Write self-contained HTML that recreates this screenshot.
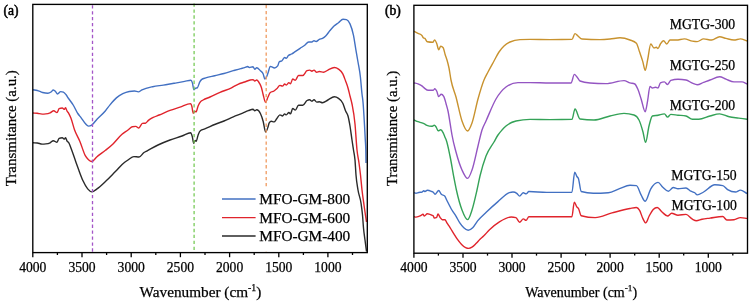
<!DOCTYPE html>
<html><head><meta charset="utf-8"><style>
html,body{margin:0;padding:0;background:#fff;width:750px;height:303px;overflow:hidden}
svg{display:block;will-change:transform}
text{font-family:"Liberation Serif",serif;fill:#000;stroke:#000;stroke-width:0.25px}
</style></head><body>
<svg width="750" height="303" viewBox="0 0 750 303">
<path d="M33.00 142.80 C34.43 142.87 35.87 142.87 37.30 143.00 C38.90 143.15 40.50 144.10 42.10 144.10 C43.33 144.10 44.57 144.03 45.80 143.90 C47.23 143.75 48.67 143.50 50.10 142.80 C51.17 142.28 52.23 140.70 53.30 140.70 C54.53 140.70 55.77 142.30 57.00 142.30 C57.70 142.30 58.40 138.56 59.10 138.30 C60.17 137.90 61.23 137.70 62.30 137.70 C63.03 137.70 63.77 139.10 64.50 139.10 C64.83 139.10 65.17 137.70 65.50 137.70 C66.03 137.70 66.57 140.38 67.10 141.20 C67.63 142.02 68.17 141.82 68.70 142.60 C69.60 143.91 70.50 146.86 71.40 149.20 C72.83 152.93 74.27 157.46 75.70 161.50 C76.63 164.13 77.57 166.78 78.50 169.30 C80.00 173.35 81.50 177.58 83.00 180.80 C84.57 184.17 86.13 187.03 87.70 188.90 C89.10 190.57 90.50 191.90 91.90 191.90 C93.60 191.90 95.30 190.08 97.00 188.90 C100.07 186.78 103.13 183.68 106.20 180.80 C109.27 177.92 112.33 174.67 115.40 171.60 C118.50 168.50 121.60 164.71 124.70 162.30 C125.80 161.45 126.90 160.72 128.00 160.00 C129.97 158.71 131.93 156.60 133.90 156.60 C135.60 156.60 137.30 157.00 139.00 157.00 C140.67 157.00 142.33 153.63 144.00 152.50 C145.07 151.78 146.13 151.37 147.20 150.80 C150.80 148.88 154.40 146.73 158.00 145.00 C162.00 143.08 166.00 141.50 170.00 140.00 C174.00 138.50 178.00 137.44 182.00 136.00 C184.90 134.96 187.80 132.70 190.70 132.70 C191.27 132.70 191.83 134.96 192.40 137.10 C192.83 138.74 193.27 143.20 193.70 143.20 C194.20 143.20 194.70 140.40 195.20 140.40 C195.53 140.40 195.87 141.30 196.20 141.30 C196.87 141.30 197.53 136.43 198.20 134.70 C199.00 132.62 199.80 131.11 200.60 130.50 C202.00 129.43 203.40 129.46 204.80 128.90 C208.10 127.58 211.40 125.85 214.70 124.50 C217.80 123.23 220.90 122.28 224.00 121.00 C227.10 119.72 230.20 118.11 233.30 116.80 C236.43 115.48 239.57 114.40 242.70 113.10 C244.57 112.32 246.43 111.37 248.30 110.70 C249.87 110.14 251.43 109.30 253.00 109.30 C253.60 109.30 254.20 110.70 254.80 110.70 C255.43 110.70 256.07 109.80 256.70 109.80 C257.93 109.80 259.17 111.03 260.40 113.50 C261.33 115.37 262.27 118.07 263.20 121.50 C264.00 124.44 264.80 132.00 265.60 132.00 C266.40 132.00 267.20 129.38 268.00 127.00 C268.40 125.81 268.80 123.51 269.20 122.90 C269.90 121.83 270.60 121.30 271.30 121.30 C272.20 121.30 273.10 121.90 274.00 121.90 C274.90 121.90 275.80 119.77 276.70 118.70 C277.77 117.43 278.83 114.90 279.90 114.90 C280.77 114.90 281.63 116.00 282.50 116.00 C283.23 116.00 283.97 113.90 284.70 113.90 C285.23 113.90 285.77 114.90 286.30 114.90 C287.17 114.90 288.03 112.50 288.90 112.50 C289.43 112.50 289.97 113.90 290.50 113.90 C291.23 113.90 291.97 108.50 292.70 108.50 C293.57 108.50 294.43 110.10 295.30 110.10 C296.37 110.10 297.43 105.30 298.50 105.30 C299.93 105.30 301.37 105.30 302.80 105.30 C304.20 105.30 305.60 101.33 307.00 100.50 C307.90 99.97 308.80 99.70 309.70 99.70 C310.43 99.70 311.17 101.10 311.90 101.10 C312.60 101.10 313.30 99.70 314.00 99.70 C314.90 99.70 315.80 102.10 316.70 102.10 C317.57 102.10 318.43 101.80 319.30 101.80 C320.37 101.80 321.43 102.70 322.50 102.70 C324.30 102.70 326.10 100.90 327.90 100.00 C330.03 98.93 332.17 96.80 334.30 96.80 C335.70 96.80 337.10 97.36 338.50 98.40 C339.93 99.47 341.37 100.14 342.80 103.20 C343.70 105.12 344.60 108.51 345.50 110.70 C346.33 112.73 347.17 112.90 348.00 116.00 C348.67 118.48 349.33 122.00 350.00 126.00 C350.67 130.00 351.33 135.46 352.00 140.00 C352.50 143.40 353.00 146.67 353.50 150.00 C354.00 153.33 354.50 154.17 355.00 160.00 C355.33 163.89 355.67 170.83 356.00 175.00 C356.67 183.33 357.33 185.84 358.00 190.00 C359.00 196.23 360.00 196.22 361.00 203.00 C361.50 206.39 362.00 209.50 362.50 215.00 C362.83 218.67 363.17 224.33 363.50 228.00 C364.00 233.50 364.50 236.08 365.00 240.00 C365.50 243.92 366.00 247.67 366.50 251.50" fill="none" stroke="#2a2a2a" stroke-width="1.4" stroke-linejoin="round"/>
<path d="M33.00 113.00 C34.43 113.10 35.87 113.13 37.30 113.30 C38.90 113.48 40.50 114.10 42.10 114.10 C43.33 114.10 44.57 114.03 45.80 113.90 C47.23 113.75 48.67 113.41 50.10 112.80 C51.33 112.28 52.57 110.70 53.80 110.70 C54.87 110.70 55.93 112.60 57.00 112.60 C57.70 112.60 58.40 109.01 59.10 108.70 C60.17 108.23 61.23 108.00 62.30 108.00 C63.03 108.00 63.77 109.40 64.50 109.40 C64.83 109.40 65.17 107.70 65.50 107.70 C66.03 107.70 66.57 110.27 67.10 111.20 C67.63 112.13 68.17 112.40 68.70 113.30 C69.43 114.53 70.17 116.22 70.90 118.10 C72.13 121.27 73.37 126.56 74.60 130.00 C76.40 135.02 78.20 137.39 80.00 141.70 C81.77 145.93 83.53 152.44 85.30 155.60 C86.37 157.51 87.43 158.72 88.50 159.70 C89.57 160.68 90.63 161.50 91.70 161.50 C93.47 161.50 95.23 158.20 97.00 156.70 C99.83 154.30 102.67 152.58 105.50 150.30 C108.00 148.28 110.50 146.29 113.00 143.90 C116.00 141.03 119.00 136.75 122.00 134.20 C124.00 132.50 126.00 131.47 128.00 130.00 C129.40 128.97 130.80 127.11 132.20 126.80 C133.40 126.53 134.60 126.40 135.80 126.40 C136.80 126.40 137.80 128.00 138.80 128.00 C140.00 128.00 141.20 123.56 142.40 123.40 C143.40 123.27 144.40 123.33 145.40 123.20 C146.40 123.07 147.40 121.21 148.40 120.40 C150.00 119.10 151.60 118.24 153.20 117.40 C155.20 116.35 157.20 115.82 159.20 115.00 C162.80 113.53 166.40 111.74 170.00 110.40 C173.33 109.16 176.67 108.29 180.00 107.20 C183.57 106.03 187.13 103.60 190.70 103.60 C191.10 103.60 191.50 105.11 191.90 106.60 C192.33 108.22 192.77 113.20 193.20 113.20 C193.77 113.20 194.33 111.20 194.90 111.20 C195.27 111.20 195.63 111.90 196.00 111.90 C196.73 111.90 197.47 107.47 198.20 105.80 C199.00 103.97 199.80 102.57 200.60 101.60 C201.43 100.59 202.27 100.49 203.10 100.00 C205.40 98.65 207.70 98.02 210.00 97.00 C213.33 95.52 216.67 93.84 220.00 92.40 C223.83 90.74 227.67 89.67 231.50 87.80 C233.67 86.74 235.83 85.26 238.00 84.30 C240.20 83.32 242.40 82.78 244.60 82.00 C246.47 81.34 248.33 80.40 250.20 80.00 C251.13 79.80 252.07 79.60 253.00 79.60 C253.60 79.60 254.20 81.00 254.80 81.00 C255.43 81.00 256.07 80.00 256.70 80.00 C257.63 80.00 258.57 81.63 259.50 83.30 C260.13 84.44 260.77 85.46 261.40 87.50 C261.93 89.22 262.47 92.00 263.00 94.00 C263.87 97.25 264.73 102.40 265.60 102.40 C266.40 102.40 267.20 98.68 268.00 97.00 C268.77 95.39 269.53 93.12 270.30 92.50 C271.53 91.50 272.77 91.79 274.00 91.00 C274.90 90.42 275.80 89.64 276.70 88.80 C277.77 87.81 278.83 85.40 279.90 85.40 C280.77 85.40 281.63 86.10 282.50 86.10 C283.23 86.10 283.97 84.00 284.70 84.00 C285.23 84.00 285.77 85.00 286.30 85.00 C287.17 85.00 288.03 82.60 288.90 82.60 C289.43 82.60 289.97 83.70 290.50 83.70 C291.23 83.70 291.97 79.00 292.70 79.00 C293.57 79.00 294.43 80.30 295.30 80.30 C296.37 80.30 297.43 75.50 298.50 75.50 C299.93 75.50 301.37 75.50 302.80 75.50 C304.20 75.50 305.60 71.32 307.00 70.70 C307.90 70.30 308.80 70.10 309.70 70.10 C310.43 70.10 311.17 71.20 311.90 71.20 C312.60 71.20 313.30 70.10 314.00 70.10 C314.90 70.10 315.80 72.30 316.70 72.30 C317.57 72.30 318.43 71.50 319.30 71.50 C320.73 71.50 322.17 72.30 323.60 72.30 C325.03 72.30 326.47 70.77 327.90 70.10 C330.03 69.10 332.17 67.50 334.30 67.50 C335.70 67.50 337.10 68.06 338.50 69.10 C339.93 70.17 341.37 71.03 342.80 73.90 C343.70 75.70 344.60 78.35 345.50 80.80 C346.33 83.07 347.17 85.08 348.00 88.00 C348.67 90.33 349.33 93.33 350.00 96.00 C350.67 98.67 351.33 100.62 352.00 104.00 C353.00 109.07 354.00 113.53 355.00 124.00 C355.67 130.98 356.33 143.50 357.00 150.00 C357.67 156.50 358.33 158.10 359.00 163.00 C359.50 166.68 360.00 170.50 360.50 175.00 C361.00 179.50 361.50 185.54 362.00 190.00 C362.67 195.95 363.33 200.22 364.00 205.00 C364.33 207.39 364.67 209.71 365.00 212.00 C365.50 215.43 366.00 218.67 366.50 222.00" fill="none" stroke="#e0242c" stroke-width="1.4" stroke-linejoin="round"/>
<path d="M33.00 89.70 C34.43 89.97 35.87 90.11 37.30 90.50 C39.07 90.98 40.83 92.05 42.60 92.50 C44.37 92.95 46.13 93.20 47.90 93.20 C48.93 93.20 49.97 92.69 51.00 92.00 C51.77 91.49 52.53 90.00 53.30 90.00 C54.03 90.00 54.77 90.78 55.50 91.50 C56.17 92.15 56.83 94.00 57.50 94.00 C58.57 94.00 59.63 91.60 60.70 91.60 C61.60 91.60 62.50 91.77 63.40 92.10 C64.30 92.43 65.20 93.63 66.10 94.80 C66.80 95.71 67.50 96.95 68.20 98.00 C69.97 100.64 71.73 102.57 73.50 105.50 C74.93 107.88 76.37 111.31 77.80 113.50 C78.87 115.13 79.93 116.19 81.00 117.60 C82.43 119.49 83.87 121.99 85.30 123.50 C86.37 124.62 87.43 126.10 88.50 126.10 C89.57 126.10 90.63 125.75 91.70 125.10 C93.47 124.02 95.23 121.09 97.00 119.20 C99.83 116.17 102.67 114.07 105.50 110.70 C107.00 108.92 108.50 106.71 110.00 104.90 C112.13 102.32 114.27 99.77 116.40 97.90 C118.53 96.03 120.67 94.77 122.80 93.70 C124.93 92.63 127.07 91.90 129.20 91.50 C130.97 91.17 132.73 91.00 134.50 91.00 C135.77 91.00 137.03 91.90 138.30 91.90 C139.53 91.90 140.77 90.49 142.00 89.90 C145.57 88.19 149.13 87.50 152.70 86.70 C156.23 85.91 159.77 85.66 163.30 85.10 C166.87 84.53 170.43 83.92 174.00 83.30 C177.57 82.68 181.13 82.07 184.70 81.40 C186.77 81.01 188.83 80.20 190.90 80.20 C191.40 80.20 191.90 81.30 192.40 82.90 C192.90 84.50 193.40 89.80 193.90 89.80 C194.37 89.80 194.83 88.53 195.30 88.30 C195.97 87.97 196.63 88.13 197.30 87.80 C198.13 87.38 198.97 83.35 199.80 81.90 C200.47 80.74 201.13 79.91 201.80 79.40 C203.10 78.40 204.40 78.34 205.70 77.90 C208.70 76.87 211.70 76.42 214.70 75.70 C217.80 74.95 220.90 74.33 224.00 73.50 C227.10 72.67 230.20 71.60 233.30 70.70 C235.80 69.98 238.30 69.23 240.80 68.60 C242.07 68.28 243.33 68.09 244.60 67.70 C245.67 67.37 246.73 66.50 247.80 66.50 C248.27 66.50 248.73 67.50 249.20 67.50 C250.47 67.50 251.73 66.70 253.00 66.70 C253.60 66.70 254.20 69.20 254.80 69.20 C255.43 69.20 256.07 67.70 256.70 67.70 C257.93 67.70 259.17 69.44 260.40 70.70 C261.33 71.65 262.27 71.80 263.20 74.00 C263.73 75.26 264.27 79.00 264.80 79.00 C265.37 79.00 265.93 78.12 266.50 77.00 C267.00 76.02 267.50 74.37 268.00 73.00 C268.77 70.89 269.53 66.40 270.30 66.40 C271.70 66.40 273.10 68.00 274.50 68.00 C275.57 68.00 276.63 67.30 277.70 65.90 C278.23 65.20 278.77 62.23 279.30 61.80 C280.20 61.07 281.10 61.42 282.00 60.70 C282.90 59.98 283.80 57.50 284.70 57.50 C285.23 57.50 285.77 58.30 286.30 58.30 C287.00 58.30 287.70 56.28 288.40 55.60 C289.47 54.56 290.53 54.62 291.60 54.00 C292.67 53.38 293.73 52.61 294.80 51.90 C296.57 50.73 298.33 49.47 300.10 48.30 C301.53 47.35 302.97 46.55 304.40 45.50 C305.83 44.45 307.27 42.00 308.70 42.00 C309.77 42.00 310.83 42.00 311.90 42.00 C312.60 42.00 313.30 40.70 314.00 40.70 C314.70 40.70 315.40 41.50 316.10 41.50 C317.17 41.50 318.23 39.93 319.30 39.40 C320.37 38.87 321.43 38.88 322.50 38.30 C323.57 37.72 324.63 36.93 325.70 35.90 C327.13 34.52 328.57 32.20 330.00 30.50 C331.33 28.92 332.67 27.25 334.00 26.00 C335.50 24.59 337.00 23.83 338.50 22.70 C340.00 21.57 341.50 19.20 343.00 19.20 C344.17 19.20 345.33 19.37 346.50 19.70 C347.67 20.03 348.83 21.28 350.00 23.90 C351.17 26.52 352.33 29.63 353.50 35.40 C354.27 39.19 355.03 44.77 355.80 49.30 C356.53 53.63 357.27 57.60 358.00 62.00 C358.80 66.80 359.60 69.90 360.40 77.00 C360.93 81.73 361.47 89.19 362.00 94.00 C362.33 97.00 362.67 98.36 363.00 102.00 C363.50 107.47 364.00 116.22 364.50 125.00 C364.77 129.68 365.03 134.79 365.30 140.00 C365.47 143.25 365.63 143.33 365.80 150.00 C365.87 152.67 365.93 158.67 366.00 163.00" fill="none" stroke="#4270c2" stroke-width="1.4" stroke-linejoin="round"/>
<path d="M414.00 216.70 C414.67 216.83 415.33 217.10 416.00 217.10 C417.57 217.10 419.13 216.49 420.70 215.70 C421.47 215.31 422.23 214.30 423.00 214.30 C423.43 214.30 423.87 216.00 424.30 216.00 C425.30 216.00 426.30 213.70 427.30 213.70 C428.87 213.70 430.43 214.52 432.00 215.30 C432.43 215.51 432.87 215.53 433.30 216.00 C433.63 216.36 433.97 218.00 434.30 218.00 C435.10 218.00 435.90 217.77 436.70 217.30 C437.13 217.05 437.57 214.00 438.00 214.00 C438.67 214.00 439.33 216.39 440.00 217.30 C440.77 218.35 441.53 219.70 442.30 219.70 C443.20 219.70 444.10 219.70 445.00 219.70 C445.63 219.70 446.27 221.89 446.90 222.90 C447.90 224.50 448.90 225.77 449.90 227.30 C451.23 229.35 452.57 231.66 453.90 233.80 C455.03 235.62 456.17 237.59 457.30 239.20 C458.73 241.24 460.17 242.97 461.60 244.40 C462.93 245.73 464.27 246.94 465.60 247.60 C466.67 248.13 467.73 248.40 468.80 248.40 C469.87 248.40 470.93 247.85 472.00 247.20 C473.33 246.39 474.67 244.93 476.00 243.60 C477.33 242.27 478.67 240.52 480.00 239.20 C481.20 238.01 482.40 237.14 483.60 236.00 C485.57 234.13 487.53 231.68 489.50 229.80 C492.80 226.64 496.10 223.96 499.40 221.90 C503.33 219.45 507.27 217.00 511.20 217.00 C512.77 217.00 514.33 217.20 515.90 217.60 C517.13 217.91 518.37 222.30 519.60 222.30 C520.83 222.30 522.07 218.90 523.30 218.90 C524.23 218.90 525.17 220.40 526.10 220.40 C527.03 220.40 527.97 216.70 528.90 216.70 C543.23 216.70 557.57 216.70 571.90 216.70 C572.70 216.70 573.50 202.10 574.30 202.10 C575.17 202.10 576.03 205.93 576.90 207.00 C577.40 207.62 577.90 207.56 578.40 208.30 C579.33 209.69 580.27 215.45 581.20 215.70 C585.87 216.97 590.53 217.60 595.20 217.60 C600.80 217.60 606.40 214.37 612.00 212.90 C618.00 211.32 624.00 209.58 630.00 208.50 C632.13 208.12 634.27 207.50 636.40 207.50 C637.47 207.50 638.53 208.58 639.60 210.40 C640.67 212.22 641.73 216.26 642.80 218.40 C643.77 220.34 644.73 222.90 645.70 222.90 C646.87 222.90 648.03 218.10 649.20 216.00 C650.53 213.60 651.87 211.00 653.20 209.60 C654.53 208.20 655.87 207.50 657.20 207.50 C658.80 207.50 660.40 210.66 662.00 212.00 C663.87 213.56 665.73 216.00 667.60 216.00 C668.93 216.00 670.27 213.30 671.60 213.30 C673.73 213.30 675.87 215.20 678.00 215.20 C680.67 215.20 683.33 214.40 686.00 214.40 C688.13 214.40 690.27 218.06 692.40 219.20 C693.73 219.91 695.07 220.80 696.40 220.80 C698.27 220.80 700.13 219.62 702.00 219.20 C704.67 218.60 707.33 218.45 710.00 218.10 C714.27 217.53 718.53 216.50 722.80 216.50 C724.13 216.50 725.47 220.00 726.80 220.00 C729.20 220.00 731.60 219.90 734.00 219.70 C736.13 219.52 738.27 217.60 740.40 217.60 C742.60 217.60 744.80 218.13 747.00 218.40" fill="none" stroke="#e0242c" stroke-width="1.4" stroke-linejoin="round"/>
<path d="M414.00 192.70 C414.67 192.90 415.33 193.30 416.00 193.30 C416.90 193.30 417.80 192.70 418.70 192.50 C419.80 192.26 420.90 192.37 422.00 192.10 C422.57 191.96 423.13 190.80 423.70 190.80 C424.13 190.80 424.57 191.50 425.00 191.50 C425.77 191.50 426.53 190.30 427.30 190.30 C428.63 190.30 429.97 190.74 431.30 191.30 C431.97 191.58 432.63 191.72 433.30 192.30 C433.87 192.79 434.43 194.30 435.00 194.30 C436.23 194.30 437.47 190.50 438.70 190.50 C439.57 190.50 440.43 193.43 441.30 194.30 C442.43 195.43 443.57 194.87 444.70 196.00 C445.37 196.67 446.03 198.68 446.70 200.00 C448.43 203.43 450.17 207.07 451.90 210.00 C453.20 212.20 454.50 213.78 455.80 215.90 C457.13 218.07 458.47 220.92 459.80 222.90 C461.13 224.88 462.47 226.58 463.80 227.80 C465.27 229.14 466.73 230.30 468.20 230.30 C469.70 230.30 471.20 229.25 472.70 227.80 C474.33 226.23 475.97 222.96 477.60 220.90 C480.47 217.29 483.33 215.05 486.20 212.30 C490.03 208.62 493.87 205.15 497.70 201.90 C501.57 198.62 505.43 194.00 509.30 192.70 C510.53 192.29 511.77 192.00 513.00 192.00 C514.27 192.00 515.53 192.43 516.80 193.30 C517.73 193.94 518.67 196.10 519.60 196.10 C520.83 196.10 522.07 192.80 523.30 192.80 C524.23 192.80 525.17 193.90 526.10 193.90 C527.03 193.90 527.97 191.50 528.90 191.50 C534.83 191.50 540.77 192.40 546.70 192.40 C555.10 192.40 563.50 192.40 571.90 192.40 C572.83 192.40 573.77 172.20 574.70 172.20 C575.43 172.20 576.17 175.37 576.90 176.50 C577.40 177.27 577.90 177.17 578.40 178.40 C579.33 180.69 580.27 191.22 581.20 191.50 C585.23 192.70 589.27 193.30 593.30 193.30 C598.30 193.30 603.30 193.13 608.30 192.80 C612.03 192.55 615.77 189.99 619.50 188.70 C623.00 187.50 626.50 185.30 630.00 185.30 C632.13 185.30 634.27 185.40 636.40 185.60 C638.00 185.75 639.60 192.41 641.20 195.20 C642.53 197.52 643.87 201.30 645.20 201.30 C647.07 201.30 648.93 191.87 650.80 188.80 C653.20 184.85 655.60 182.40 658.00 182.40 C659.60 182.40 661.20 185.81 662.80 187.20 C664.67 188.82 666.53 191.20 668.40 191.20 C670.00 191.20 671.60 187.50 673.20 187.50 C674.80 187.50 676.40 188.80 678.00 188.80 C680.67 188.80 683.33 188.00 686.00 188.00 C687.60 188.00 689.20 190.37 690.80 191.20 C692.13 191.89 693.47 191.87 694.80 192.80 C695.60 193.36 696.40 194.90 697.20 194.90 C699.33 194.90 701.47 193.11 703.60 192.00 C707.33 190.05 711.07 184.80 714.80 184.80 C717.47 184.80 720.13 185.07 722.80 185.60 C724.40 185.92 726.00 188.64 727.60 189.60 C730.27 191.20 732.93 192.00 735.60 192.00 C737.20 192.00 738.80 190.10 740.40 190.10 C742.60 190.10 744.80 192.43 747.00 193.60" fill="none" stroke="#4270c2" stroke-width="1.4" stroke-linejoin="round"/>
<path d="M414.00 119.90 C415.33 120.50 416.67 121.20 418.00 121.70 C419.30 122.19 420.60 122.43 421.90 122.90 C422.73 123.20 423.57 123.50 424.40 123.90 C425.23 124.30 426.07 124.96 426.90 125.30 C428.53 125.97 430.17 126.30 431.80 126.30 C432.63 126.30 433.47 125.30 434.30 125.30 C434.97 125.30 435.63 126.35 436.30 127.30 C436.93 128.21 437.57 130.80 438.20 130.80 C439.03 130.80 439.87 129.80 440.70 129.80 C441.53 129.80 442.37 131.22 443.20 132.80 C443.87 134.06 444.53 136.13 445.20 137.70 C445.53 138.48 445.87 139.10 446.20 140.00 C447.47 143.42 448.73 149.87 450.00 156.00 C451.33 162.45 452.67 171.08 454.00 178.00 C454.80 182.15 455.60 186.34 456.40 190.00 C458.27 198.53 460.13 205.07 462.00 210.00 C463.87 214.93 465.73 219.60 467.60 219.60 C469.07 219.60 470.53 214.45 472.00 210.00 C473.67 204.95 475.33 197.36 477.00 190.00 C478.00 185.58 479.00 180.22 480.00 176.00 C482.00 167.56 484.00 161.31 486.00 156.00 C488.67 148.92 491.33 146.67 494.00 142.00 C495.33 139.67 496.67 137.00 498.00 135.00 C499.33 133.00 500.67 131.50 502.00 130.00 C503.33 128.50 504.67 127.14 506.00 126.00 C509.33 123.14 512.67 121.76 516.00 121.00 C520.67 119.93 525.33 119.40 530.00 119.40 C536.67 119.40 543.33 119.60 550.00 119.60 C557.33 119.60 564.67 119.53 572.00 119.40 C573.00 119.38 574.00 109.00 575.00 109.00 C576.67 109.00 578.33 118.76 580.00 119.00 C584.67 119.67 589.33 120.00 594.00 120.00 C599.33 120.00 604.67 117.15 610.00 116.00 C614.67 114.99 619.33 113.40 624.00 113.40 C627.33 113.40 630.67 113.93 634.00 115.00 C635.67 115.53 637.33 116.67 639.00 120.00 C640.33 122.67 641.67 127.19 643.00 132.00 C643.87 135.13 644.73 142.40 645.60 142.40 C646.73 142.40 647.87 130.40 649.00 126.00 C650.13 121.60 651.27 116.32 652.40 116.00 C654.27 115.47 656.13 115.52 658.00 115.20 C660.13 114.84 662.27 113.90 664.40 113.90 C665.47 113.90 666.53 117.10 667.60 117.10 C668.67 117.10 669.73 114.40 670.80 114.40 C673.20 114.40 675.60 114.95 678.00 115.20 C680.67 115.48 683.33 115.47 686.00 116.00 C688.13 116.43 690.27 119.20 692.40 119.20 C694.53 119.20 696.67 119.20 698.80 119.20 C702.53 119.20 706.27 116.93 710.00 116.00 C713.20 115.20 716.40 113.90 719.60 113.90 C722.80 113.90 726.00 116.10 729.20 116.80 C732.40 117.50 735.60 117.67 738.80 118.10 C741.53 118.47 744.27 118.83 747.00 119.20" fill="none" stroke="#34a257" stroke-width="1.4" stroke-linejoin="round"/>
<path d="M414.00 82.90 C415.33 83.23 416.67 83.39 418.00 83.90 C419.30 84.40 420.60 84.94 421.90 85.90 C422.73 86.51 423.57 87.47 424.40 88.10 C425.70 89.08 427.00 90.30 428.30 90.30 C429.97 90.30 431.63 90.30 433.30 90.30 C433.80 90.30 434.30 88.70 434.80 88.70 C435.47 88.70 436.13 89.92 436.80 91.30 C437.43 92.61 438.07 96.60 438.70 96.60 C439.53 96.60 440.37 94.30 441.20 94.30 C442.03 94.30 442.87 94.97 443.70 96.30 C444.53 97.63 445.37 101.27 446.20 104.20 C446.80 106.31 447.40 108.23 448.00 111.00 C449.00 115.61 450.00 123.00 451.00 129.00 C451.33 131.00 451.67 133.12 452.00 135.00 C453.33 142.53 454.67 147.00 456.00 152.00 C458.00 159.50 460.00 165.55 462.00 170.00 C463.87 174.15 465.73 178.40 467.60 178.40 C469.07 178.40 470.53 174.10 472.00 170.00 C474.00 164.41 476.00 154.00 478.00 146.00 C479.33 140.67 480.67 134.17 482.00 130.00 C483.33 125.83 484.67 123.98 486.00 121.00 C489.33 113.55 492.67 104.67 496.00 99.00 C499.33 93.33 502.67 89.44 506.00 87.00 C510.00 84.07 514.00 82.60 518.00 82.60 C522.00 82.60 526.00 82.60 530.00 82.60 C536.67 82.60 543.33 83.00 550.00 83.00 C557.00 83.00 564.00 83.00 571.00 83.00 C572.13 83.00 573.27 74.40 574.40 74.40 C575.27 74.40 576.13 76.00 577.00 77.00 C578.00 78.15 579.00 80.60 580.00 81.00 C583.33 82.33 586.67 82.75 590.00 83.00 C595.33 83.40 600.67 83.60 606.00 83.60 C612.00 83.60 618.00 80.60 624.00 80.60 C626.00 80.60 628.00 82.30 630.00 82.90 C631.60 83.38 633.20 83.27 634.80 84.00 C635.87 84.49 636.93 87.07 638.00 89.60 C639.07 92.13 640.13 95.94 641.20 99.20 C642.53 103.27 643.87 111.70 645.20 111.70 C646.00 111.70 646.80 105.02 647.60 100.80 C648.40 96.58 649.20 86.40 650.00 86.40 C650.80 86.40 651.60 88.00 652.40 88.00 C653.47 88.00 654.53 87.20 655.60 87.20 C656.40 87.20 657.20 88.00 658.00 88.00 C658.80 88.00 659.60 83.30 660.40 82.90 C661.73 82.23 663.07 81.90 664.40 81.90 C665.47 81.90 666.53 84.50 667.60 84.50 C668.67 84.50 669.73 80.63 670.80 80.30 C673.20 79.57 675.60 79.20 678.00 79.20 C680.67 79.20 683.33 79.47 686.00 80.00 C688.13 80.43 690.27 82.34 692.40 83.20 C694.00 83.85 695.60 84.80 697.20 84.80 C699.33 84.80 701.47 83.20 703.60 82.40 C705.73 81.60 707.87 80.76 710.00 80.00 C713.20 78.85 716.40 76.80 719.60 76.80 C721.73 76.80 723.87 78.44 726.00 79.20 C728.67 80.16 731.33 81.90 734.00 81.90 C736.67 81.90 739.33 81.90 742.00 81.90 C743.67 81.90 745.33 83.30 747.00 84.00" fill="none" stroke="#9455c2" stroke-width="1.4" stroke-linejoin="round"/>
<path d="M414.00 31.40 C415.33 32.07 416.67 32.72 418.00 33.40 C419.30 34.06 420.60 34.07 421.90 35.40 C422.40 35.91 422.90 37.57 423.40 37.90 C423.90 38.23 424.40 38.07 424.90 38.40 C425.70 38.93 426.50 41.65 427.30 41.80 C429.13 42.13 430.97 42.30 432.80 42.30 C433.40 42.30 434.00 39.90 434.60 39.90 C435.33 39.90 436.07 41.95 436.80 43.80 C437.43 45.39 438.07 49.80 438.70 49.80 C439.37 49.80 440.03 46.30 440.70 46.30 C441.53 46.30 442.37 46.80 443.20 47.80 C443.87 48.60 444.53 52.58 445.20 54.70 C445.80 56.61 446.40 57.93 447.00 60.00 C447.67 62.30 448.33 64.67 449.00 68.00 C449.67 71.33 450.33 76.50 451.00 80.00 C452.67 88.76 454.33 90.88 456.00 97.00 C458.00 104.35 460.00 115.29 462.00 121.00 C463.87 126.33 465.73 131.00 467.60 131.00 C469.07 131.00 470.53 127.02 472.00 123.00 C474.00 117.52 476.00 106.17 478.00 99.00 C480.00 91.83 482.00 84.93 484.00 80.00 C485.33 76.71 486.67 74.58 488.00 72.00 C490.00 68.13 492.00 64.63 494.00 61.00 C495.67 57.97 497.33 54.50 499.00 52.00 C500.67 49.50 502.33 47.60 504.00 46.00 C506.00 44.08 508.00 42.96 510.00 42.00 C513.33 40.40 516.67 39.73 520.00 39.60 C523.33 39.47 526.67 39.40 530.00 39.40 C536.67 39.40 543.33 39.60 550.00 39.60 C557.33 39.60 564.67 39.53 572.00 39.40 C573.00 39.38 574.00 33.60 575.00 33.60 C576.00 33.60 577.00 35.22 578.00 36.00 C579.33 37.04 580.67 38.91 582.00 39.00 C588.00 39.40 594.00 39.60 600.00 39.60 C603.33 39.60 606.67 39.30 610.00 39.00 C613.33 38.70 616.67 37.80 620.00 37.80 C623.33 37.80 626.67 38.70 630.00 40.00 C632.13 40.83 634.27 41.07 636.40 43.20 C637.47 44.27 638.53 48.93 639.60 52.00 C640.67 55.07 641.73 57.99 642.80 61.60 C643.60 64.30 644.40 70.40 645.20 70.40 C646.00 70.40 646.80 63.70 647.60 60.00 C648.67 55.07 649.73 44.00 650.80 44.00 C651.87 44.00 652.93 48.00 654.00 48.00 C654.80 48.00 655.60 47.20 656.40 47.20 C656.93 47.20 657.47 48.50 658.00 48.50 C658.80 48.50 659.60 45.20 660.40 44.00 C661.47 42.40 662.53 40.80 663.60 40.80 C664.67 40.80 665.73 44.00 666.80 44.00 C667.87 44.00 668.93 40.00 670.00 40.00 C672.13 40.00 674.27 40.00 676.40 40.00 C679.07 40.00 681.73 38.90 684.40 38.90 C687.07 38.90 689.73 40.65 692.40 41.10 C694.00 41.37 695.60 41.60 697.20 41.60 C699.33 41.60 701.47 38.90 703.60 38.90 C706.27 38.90 708.93 40.00 711.60 40.00 C714.27 40.00 716.93 36.80 719.60 36.80 C721.73 36.80 723.87 37.91 726.00 38.40 C728.67 39.01 731.33 40.00 734.00 40.00 C736.13 40.00 738.27 38.90 740.40 38.90 C742.60 38.90 744.80 40.30 747.00 41.00" fill="none" stroke="#c8922e" stroke-width="1.4" stroke-linejoin="round"/>
<line x1="92.5" y1="5.2" x2="92.5" y2="252.0" stroke="#a455c8" stroke-width="1.3" stroke-dasharray="3.3 2.63"/>
<line x1="194.1" y1="3.5" x2="194.1" y2="252.0" stroke="#78ca58" stroke-width="1.3" stroke-dasharray="3.3 2.63"/>
<line x1="266.2" y1="5.0" x2="266.2" y2="252.0" stroke="#f09a60" stroke-width="1.3" stroke-dasharray="3.3 2.63"/>
<rect x="210" y="187" width="140" height="64.5" fill="#fff"/>
<line x1="222" y1="199.0" x2="255.6" y2="199.0" stroke="#4270c2" stroke-width="1.4"/>
<line x1="222" y1="217.6" x2="255.6" y2="217.6" stroke="#e0242c" stroke-width="1.4"/>
<line x1="222" y1="236.0" x2="255.6" y2="236.0" stroke="#2a2a2a" stroke-width="1.4"/>
<rect x="32.8" y="4.4" width="334.5" height="248.2" fill="none" stroke="#000" stroke-width="1.35"/>
<line x1="32.8" y1="252.6" x2="32.8" y2="257.2" stroke="#000" stroke-width="1.3"/>
<line x1="57.4" y1="252.6" x2="57.4" y2="255.0" stroke="#000" stroke-width="1.3"/>
<line x1="82.0" y1="252.6" x2="82.0" y2="257.2" stroke="#000" stroke-width="1.3"/>
<line x1="106.6" y1="252.6" x2="106.6" y2="255.0" stroke="#000" stroke-width="1.3"/>
<line x1="131.2" y1="252.6" x2="131.2" y2="257.2" stroke="#000" stroke-width="1.3"/>
<line x1="155.8" y1="252.6" x2="155.8" y2="255.0" stroke="#000" stroke-width="1.3"/>
<line x1="180.4" y1="252.6" x2="180.4" y2="257.2" stroke="#000" stroke-width="1.3"/>
<line x1="205.0" y1="252.6" x2="205.0" y2="255.0" stroke="#000" stroke-width="1.3"/>
<line x1="229.6" y1="252.6" x2="229.6" y2="257.2" stroke="#000" stroke-width="1.3"/>
<line x1="254.2" y1="252.6" x2="254.2" y2="255.0" stroke="#000" stroke-width="1.3"/>
<line x1="278.8" y1="252.6" x2="278.8" y2="257.2" stroke="#000" stroke-width="1.3"/>
<line x1="303.4" y1="252.6" x2="303.4" y2="255.0" stroke="#000" stroke-width="1.3"/>
<line x1="327.9" y1="252.6" x2="327.9" y2="257.2" stroke="#000" stroke-width="1.3"/>
<line x1="352.5" y1="252.6" x2="352.5" y2="255.0" stroke="#000" stroke-width="1.3"/>
<rect x="413.9" y="5.3" width="333.6" height="247.9" fill="none" stroke="#000" stroke-width="1.35"/>
<line x1="413.9" y1="253.2" x2="413.9" y2="257.8" stroke="#000" stroke-width="1.3"/>
<line x1="438.4" y1="253.2" x2="438.4" y2="255.6" stroke="#000" stroke-width="1.3"/>
<line x1="463.0" y1="253.2" x2="463.0" y2="257.8" stroke="#000" stroke-width="1.3"/>
<line x1="487.5" y1="253.2" x2="487.5" y2="255.6" stroke="#000" stroke-width="1.3"/>
<line x1="512.0" y1="253.2" x2="512.0" y2="257.8" stroke="#000" stroke-width="1.3"/>
<line x1="536.5" y1="253.2" x2="536.5" y2="255.6" stroke="#000" stroke-width="1.3"/>
<line x1="561.1" y1="253.2" x2="561.1" y2="257.8" stroke="#000" stroke-width="1.3"/>
<line x1="585.6" y1="253.2" x2="585.6" y2="255.6" stroke="#000" stroke-width="1.3"/>
<line x1="610.1" y1="253.2" x2="610.1" y2="257.8" stroke="#000" stroke-width="1.3"/>
<line x1="634.7" y1="253.2" x2="634.7" y2="255.6" stroke="#000" stroke-width="1.3"/>
<line x1="659.2" y1="253.2" x2="659.2" y2="257.8" stroke="#000" stroke-width="1.3"/>
<line x1="683.7" y1="253.2" x2="683.7" y2="255.6" stroke="#000" stroke-width="1.3"/>
<line x1="708.3" y1="253.2" x2="708.3" y2="257.8" stroke="#000" stroke-width="1.3"/>
<line x1="732.8" y1="253.2" x2="732.8" y2="255.6" stroke="#000" stroke-width="1.3"/>
<text x="259.3" y="204.2" font-size="15.3">MFO-GM-800</text>
<text x="259.3" y="222.6" font-size="15.3">MFO-GM-600</text>
<text x="259.3" y="241.2" font-size="15.3">MFO-GM-400</text>
<text x="669.8" y="29.3" font-size="13.7">MGTG-300</text>
<text x="669.8" y="70.3" font-size="13.7">MGTG-250</text>
<text x="669.8" y="110.4" font-size="13.7">MGTG-200</text>
<text x="671.3" y="179.7" font-size="13.7">MGTG-150</text>
<text x="671.5" y="209.9" font-size="13.7">MGTG-100</text>
<text x="32.8" y="271.5" text-anchor="middle" font-size="13.6">4000</text>
<text x="82.0" y="271.5" text-anchor="middle" font-size="13.6">3500</text>
<text x="131.2" y="271.5" text-anchor="middle" font-size="13.6">3000</text>
<text x="180.4" y="271.5" text-anchor="middle" font-size="13.6">2500</text>
<text x="229.6" y="271.5" text-anchor="middle" font-size="13.6">2000</text>
<text x="278.8" y="271.5" text-anchor="middle" font-size="13.6">1500</text>
<text x="327.9" y="271.5" text-anchor="middle" font-size="13.6">1000</text>
<text x="413.9" y="272.3" text-anchor="middle" font-size="13.6">4000</text>
<text x="463.0" y="272.3" text-anchor="middle" font-size="13.6">3500</text>
<text x="512.0" y="272.3" text-anchor="middle" font-size="13.6">3000</text>
<text x="561.1" y="272.3" text-anchor="middle" font-size="13.6">2500</text>
<text x="610.1" y="272.3" text-anchor="middle" font-size="13.6">2000</text>
<text x="659.2" y="272.3" text-anchor="middle" font-size="13.6">1500</text>
<text x="708.3" y="272.3" text-anchor="middle" font-size="13.6">1000</text>
<text x="139.6" y="297.3" font-size="15.25">Wavenumber (cm<tspan dy="-6" font-size="9.8">-1</tspan><tspan dy="6">)</tspan></text>
<text x="525.2" y="297.2" font-size="14.0">Wavenumber (cm<tspan dy="-6" font-size="9.2">-1</tspan><tspan dy="6">)</tspan></text>
<text transform="translate(15.9,186.2) rotate(-90)" font-size="14.95">Transmitance (a.u.)</text>
<text transform="translate(396.6,186.0) rotate(-90)" font-size="14.85">Transmitance (a.u.)</text>
<text x="3.5" y="14.6" font-size="13.6" style="stroke-width:0.5px">(a)</text>
<text x="385.0" y="15.4" font-size="13.6" style="stroke-width:0.5px">(b)</text>
</svg>
</body></html>
